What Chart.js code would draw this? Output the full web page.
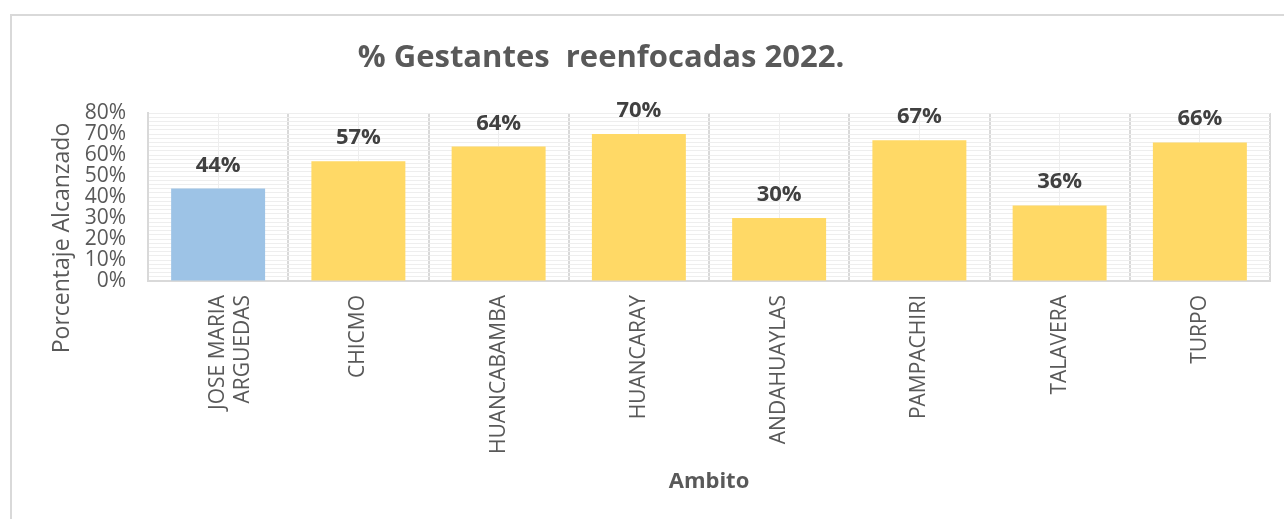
<!DOCTYPE html>
<html>
<head>
<meta charset="utf-8">
<script src="https://cdn.jsdelivr.net/npm/chart.js@4.4.0/dist/chart.umd.min.js"></script>
<style>
  body { margin: 0; background: #fff; }
  #wrap { position: relative; width: 1284px; height: 519px; }
  #frame {
    position: absolute; left: 10px; top: 14px; right: -10px; bottom: -10px;
    border-left: 2px solid #d9d9d9; border-top: 2px solid #d9d9d9;
    pointer-events: none;
  }
  canvas { position: absolute; left: 0; top: 0; }
</style>
</head>
<body>
<div id="wrap">
  <div id="frame"></div>
  <canvas id="chart" width="1284" height="519"></canvas>
</div>
<script>
const categories = [
  ["JOSE MARIA", "ARGUEDAS"],
  "CHICMO",
  "HUANCABAMBA",
  "HUANCARAY",
  "ANDAHUAYLAS",
  "PAMPACHIRI",
  "TALAVERA",
  "TURPO",
];
const values = [44, 57, 64, 70, 30, 67, 36, 66];
const barColors = ["#9DC3E6", "#FFD966", "#FFD966", "#FFD966", "#FFD966", "#FFD966", "#FFD966", "#FFD966"];
const chartTitle = "% Gestantes  reenfocadas 2022.";
const yTitle = "Porcentaje Alcanzado";
const xTitle = "Ambito";

const FONT = "'Open Sans', sans-serif";

// value labels above the bars + free-placed titles
const labelsPlugin = {
  id: "labelsPlugin",
  afterDatasetsDraw(chart) {
    const ctx = chart.ctx;
    const meta = chart.getDatasetMeta(0);
    ctx.save();
    ctx.font = "bold 22px " + FONT;
    ctx.fillStyle = "#404040";
    ctx.textAlign = "center";
    ctx.textBaseline = "alphabetic";
    meta.data.forEach((bar, i) => {
      ctx.fillText(values[i] + "%", bar.x, bar.y - 17);
    });
    ctx.restore();
  },
  afterDraw(chart) {
    const ctx = chart.ctx;
    ctx.save();
    ctx.fillStyle = "#595959";
    ctx.textAlign = "center";
    ctx.textBaseline = "middle";
    ctx.font = "bold 31px " + FONT;
    ctx.fillText(chartTitle, 601, 58);
    ctx.translate(62, 238);
    ctx.rotate(-Math.PI / 2);
    ctx.font = "23px " + FONT;
    ctx.fillText(yTitle, 0, 0);
    ctx.restore();
  },
};

new Chart(document.getElementById("chart").getContext("2d"), {
  type: "bar",
  data: {
    labels: categories,
    datasets: [
      {
        data: values,
        backgroundColor: barColors,
        borderWidth: 0,
        barPercentage: 0.67,
        categoryPercentage: 1,
      },
    ],
  },
  options: {
    responsive: false,
    animation: false,
    devicePixelRatio: 1,
    layout: { padding: { top: 113, right: 14, bottom: 24, left: 0 } },
    plugins: {
      legend: { display: false },
      tooltip: { enabled: false },
    },
    scales: {
      x: {
        offset: true,
        grid: { offset: true, color: "#d9d9d9", lineWidth: 2, drawTicks: false },
        border: { color: "#d9d9d9", width: 2 },
        ticks: {
          color: "#595959",
          font: { family: FONT, size: 21 },
          minRotation: 90,
          maxRotation: 90,
          padding: 14,
          autoSkip: false,
        },
        title: {
          display: true,
          text: xTitle,
          color: "#595959",
          font: { family: FONT, size: 22, weight: "bold" },
          padding: 0,
        },
        afterFit(scale) { scale.height = 214; },
      },
      xc: {
        type: "category",
        position: "bottom",
        offset: true,
        grid: { offset: false, color: "#eeeeee", lineWidth: 1, drawTicks: false },
        border: { display: false },
        ticks: { display: false },
        afterFit(scale) { scale.height = 0; },
      },
      y: {
        min: 0,
        max: 80,
        grid: { color: "#eeeeee", lineWidth: 1, drawTicks: false },
        border: { color: "#d9d9d9", width: 2 },
        ticks: {
          stepSize: 2,
          autoSkip: false,
          color: "#595959",
          font: { family: FONT, size: 21 },
          padding: 22,
          callback: (v) => (v % 10 === 0 ? v + "%" : ""),
        },
        afterFit(scale) { scale.width = 148; },
      },
    },
  },
  plugins: [labelsPlugin],
});
</script>
</body>
</html>
